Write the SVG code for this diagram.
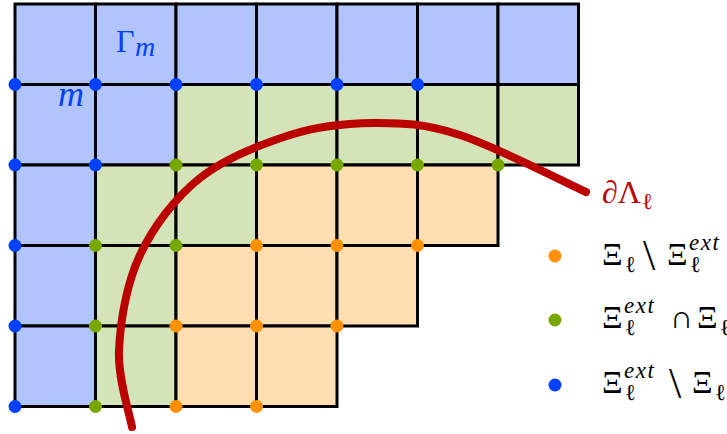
<svg xmlns="http://www.w3.org/2000/svg" width="727" height="434" viewBox="0 0 727 434">
<style>
.c{stroke:#000;stroke-width:3}
.b{fill:#b2c4fc}.g{fill:#d4e4b9}.o{fill:#ffdeb2}
.db{fill:#0040ff}.dg{fill:#76a800}.do{fill:#ff9100}
.t{font-family:"Liberation Serif","DejaVu Serif",serif;font-size:32px;fill:#000}
.i{font-style:italic}
.s{font-size:23px}
.bs{font-size:44px;font-weight:100}
</style>
<rect width="727" height="434" fill="#fff"/>
<g id="cells">
<rect class="c b" x="15" y="4" width="80.5" height="80.5"/>
<rect class="c b" x="95.5" y="4" width="80.5" height="80.5"/>
<rect class="c b" x="176" y="4" width="80.5" height="80.5"/>
<rect class="c b" x="256.5" y="4" width="80.5" height="80.5"/>
<rect class="c b" x="337" y="4" width="80.5" height="80.5"/>
<rect class="c b" x="417.5" y="4" width="80.5" height="80.5"/>
<rect class="c b" x="498" y="4" width="80.5" height="80.5"/>
<rect class="c b" x="15" y="84.5" width="80.5" height="80.5"/>
<rect class="c b" x="95.5" y="84.5" width="80.5" height="80.5"/>
<rect class="c g" x="176" y="84.5" width="80.5" height="80.5"/>
<rect class="c g" x="256.5" y="84.5" width="80.5" height="80.5"/>
<rect class="c g" x="337" y="84.5" width="80.5" height="80.5"/>
<rect class="c g" x="417.5" y="84.5" width="80.5" height="80.5"/>
<rect class="c g" x="498" y="84.5" width="80.5" height="80.5"/>
<rect class="c b" x="15" y="165" width="80.5" height="80.5"/>
<rect class="c g" x="95.5" y="165" width="80.5" height="80.5"/>
<rect class="c g" x="176" y="165" width="80.5" height="80.5"/>
<rect class="c o" x="256.5" y="165" width="80.5" height="80.5"/>
<rect class="c o" x="337" y="165" width="80.5" height="80.5"/>
<rect class="c o" x="417.5" y="165" width="80.5" height="80.5"/>
<rect class="c b" x="15" y="245.5" width="80.5" height="80.5"/>
<rect class="c g" x="95.5" y="245.5" width="80.5" height="80.5"/>
<rect class="c o" x="176" y="245.5" width="80.5" height="80.5"/>
<rect class="c o" x="256.5" y="245.5" width="80.5" height="80.5"/>
<rect class="c o" x="337" y="245.5" width="80.5" height="80.5"/>
<rect class="c b" x="15" y="326" width="80.5" height="80.5"/>
<rect class="c g" x="95.5" y="326" width="80.5" height="80.5"/>
<rect class="c o" x="176" y="326" width="80.5" height="80.5"/>
<rect class="c o" x="256.5" y="326" width="80.5" height="80.5"/>
</g>
<g id="dots">
<circle class="db" cx="15" cy="84.5" r="6.5"/><circle class="db" cx="95.5" cy="84.5" r="6.5"/><circle class="db" cx="176" cy="84.5" r="6.5"/><circle class="db" cx="256.5" cy="84.5" r="6.5"/><circle class="db" cx="337" cy="84.5" r="6.5"/><circle class="db" cx="417.5" cy="84.5" r="6.5"/>
<circle class="db" cx="15" cy="165" r="6.5"/><circle class="db" cx="95.5" cy="165" r="6.5"/><circle class="dg" cx="176" cy="165" r="6.5"/><circle class="dg" cx="256.5" cy="165" r="6.5"/><circle class="dg" cx="337" cy="165" r="6.5"/><circle class="dg" cx="417.5" cy="165" r="6.5"/><circle class="dg" cx="498" cy="165" r="6.5"/>
<circle class="db" cx="15" cy="245.5" r="6.5"/><circle class="dg" cx="95.5" cy="245.5" r="6.5"/><circle class="dg" cx="176" cy="245.5" r="6.5"/><circle class="do" cx="256.5" cy="245.5" r="6.5"/><circle class="do" cx="337" cy="245.5" r="6.5"/><circle class="do" cx="417.5" cy="245.5" r="6.5"/>
<circle class="db" cx="15" cy="326" r="6.5"/><circle class="dg" cx="95.5" cy="326" r="6.5"/><circle class="do" cx="176" cy="326" r="6.5"/><circle class="do" cx="256.5" cy="326" r="6.5"/><circle class="do" cx="337" cy="326" r="6.5"/>
<circle class="db" cx="15" cy="406.5" r="6.5"/><circle class="dg" cx="95.5" cy="406.5" r="6.5"/><circle class="do" cx="176" cy="406.5" r="6.5"/><circle class="do" cx="256.5" cy="406.5" r="6.5"/>
</g>
<g id="boundary">
<path d="M132,427 C129.8,414.2 117.7,378.7 119,350 C120.3,321.3 126.5,283.7 140,255 C153.5,226.3 175,198 200,178 C225,158 261.2,144.2 290,135 C318.8,125.8 344.7,123.3 373,123 C401.3,122.7 424.5,123.5 460,135 C495.5,146.5 565,182.5 586,192" fill="none" stroke="#bb0000" stroke-width="8" stroke-linecap="round"/>
</g>
<g id="labels">
<text class="t" x="116" y="52" style="fill:#0040ff">Γ<tspan class="i" x="135" y="56" font-size="28">m</tspan></text>
<text class="t i" x="58" y="106" style="fill:#0040ff;font-size:36px">m</text>
<text class="t" x="602" y="203" style="fill:#c00000">∂Λ<tspan class="s" x="642" y="209">ℓ</tspan></text>
</g>
<g id="legend">
<circle class="do" cx="555" cy="256" r="6.5"/>
<circle class="dg" cx="555" cy="320" r="6.5"/>
<circle class="db" cx="555" cy="385" r="6.5"/>
<text class="t" x="602" y="265">Ξ<tspan class="s" x="625" y="272">ℓ</tspan><tspan class="bs" x="643" y="270">\</tspan><tspan x="667" y="265">Ξ</tspan><tspan class="s" x="690" y="272">ℓ</tspan><tspan class="s i" x="689" y="250" letter-spacing="1.5">ext</tspan></text>
<text class="t" x="602" y="328">Ξ<tspan class="s" x="625" y="335">ℓ</tspan><tspan class="s i" x="624" y="313" letter-spacing="1.5">ext</tspan><tspan x="670" y="328">∩</tspan><tspan x="697" y="328">Ξ</tspan><tspan class="s" x="720" y="335">ℓ</tspan></text>
<text class="t" x="602" y="393">Ξ<tspan class="s" x="625" y="400">ℓ</tspan><tspan class="s i" x="624" y="378" letter-spacing="1.5">ext</tspan><tspan class="bs" x="669" y="398">\</tspan><tspan x="692" y="393">Ξ</tspan><tspan class="s" x="715" y="400">ℓ</tspan></text>
</g>
</svg>
